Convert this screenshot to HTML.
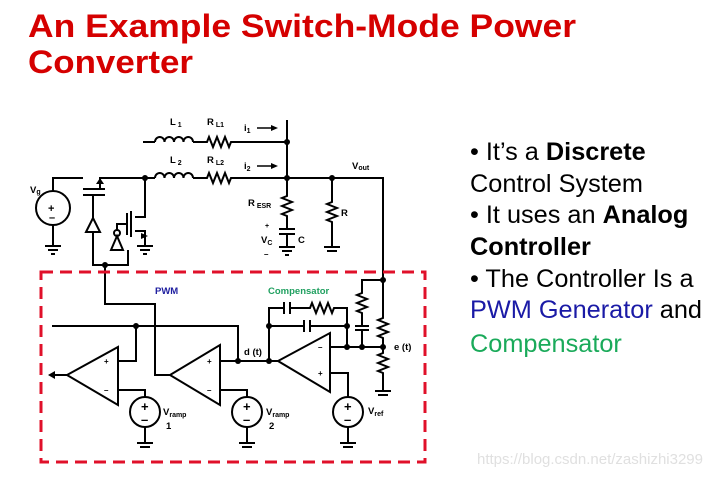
<!DOCTYPE html>
<html><head><meta charset="utf-8"><style>
body{margin:0;background:#fff;width:725px;height:477px;overflow:hidden}
svg{display:block}
</style></head><body>
<svg width="725" height="477" viewBox="0 0 725 477" xmlns="http://www.w3.org/2000/svg" font-family="Liberation Sans, Arial, sans-serif">
<text x="28" y="37" font-size="32" font-weight="bold" fill="#d50000" textLength="548" lengthAdjust="spacingAndGlyphs">An Example Switch-Mode Power</text>
<text x="28" y="73" font-size="32" font-weight="bold" fill="#d50000" textLength="165" lengthAdjust="spacingAndGlyphs">Converter</text>

<g font-size="25.3" fill="#000">
<text x="470" y="160">• It’s a <tspan font-weight="bold">Discrete</tspan></text>
<text x="470" y="192">Control System</text>
<text x="470" y="223">• It uses an <tspan font-weight="bold">Analog</tspan></text>
<text x="470" y="255" font-weight="bold">Controller</text>
<text x="470" y="287">• The Controller Is a</text>
<text x="470" y="318"><tspan fill="#1a1aa6">PWM Generator</tspan> and</text>
<text x="470" y="352" fill="#1aaa5a">Compensator</text>
</g>
<text x="477" y="464" font-size="15" fill="#e0e0e0">https://blog.csdn.net/zashizhi3299</text>

<g stroke="#000" stroke-width="2" fill="none">
<path d="M143 142 H155"/>
<path d="M155 142 a4.75 5 0 0 1 9.5 0 a4.75 5 0 0 1 9.5 0 a4.75 5 0 0 1 9.5 0 a4.75 5 0 0 1 9.5 0"/>
<path d="M193 142 H207 l2 -5 l4 10 l4 -10 l4 10 l4 -10 l4 10 l2 -5 H287"/>
<path d="M287 120 V178"/>
<path d="M53 191 V178 H83"/>
<path d="M83 189 H105 M83 195 H105 M100 189 V178 H155"/>
<path d="M155 178 a4.75 5 0 0 1 9.5 0 a4.75 5 0 0 1 9.5 0 a4.75 5 0 0 1 9.5 0 a4.75 5 0 0 1 9.5 0"/>
<path d="M193 178 H207 l2 -5 l4 10 l4 -10 l4 10 l4 -10 l4 10 l2 -5 H383 V280"/>
<circle cx="53" cy="208" r="17"/>
<path d="M53 225 V246 M45 246 H61 M48 250 H58 M51 254 H55"/>
<path d="M93 195 V218 M86 232 L93 218 L100 232 Z M93 232 V265 H128 V250"/>
<path d="M145 178 V217 H135 M131 211 V237 M127 213 V235 M135 231 H145 V246 M137 246 H153 M140 250 H150 M143 254 H147"/>
<path d="M127 224 H117 V230"/>
<circle cx="117" cy="233" r="3"/>
<path d="M111 250 L117 236 L123 250 Z"/>
<path d="M287 178 V196 l-5 2 l10 4 l-10 4 l10 4 l-10 4 l5 2 V229 M279 229 H295 M279 234 H295 M287 234 V247 M279 247 H295 M282 251 H292 M285 255 H289"/>
<path d="M332 178 V202 l-5 2 l10 4 l-10 4 l10 4 l-10 4 l5 2 V247 M324 247 H340 M327 251 H337"/>
<path d="M105 265 V304 H155 V375 H170"/>
<path d="M118 347 V405 L67 375 Z"/>
<path d="M67 375 H55"/>
<path d="M52 326 H238 V361 M136 326 V361 H118 M118 390 H145 V397"/>
<circle cx="145" cy="412" r="15"/>
<path d="M145 427 V443 M137 443 H153 M140 447 H150"/>
<path d="M220 345 V405 L170 375 Z"/>
<path d="M220 361 H278 M220 390 H247 V397"/>
<circle cx="247" cy="412" r="15"/>
<path d="M247 427 V443 M239 443 H255 M242 447 H252"/>
<path d="M330 333 V392 L278 361 Z"/>
<path d="M330 373 H348 V397"/>
<circle cx="348" cy="412" r="15"/>
<path d="M348 427 V443 M340 443 H356 M343 447 H353"/>
<path d="M269 361 V308 H284 M284 302 V314 M290 302 V314 M290 308 H310 l2 -5 l4 10 l4 -10 l4 10 l4 -10 l4 10 l2 -5 H347 V347"/>
<path d="M269 326 H304 M304 320 V332 M310 320 V332 M310 326 H347"/>
<path d="M330 347 H383"/>
<path d="M362 347 V330 M355 330 H369 M355 326 H369 M362 326 V313 l-5 -2 l10 -4 l-10 -4 l10 -4 l-10 -4 l5 -2 V280 H383"/>
<path d="M383 280 V318 l-5 2 l10 4 l-10 4 l10 4 l-10 4 l5 2 V353 l-5 2 l10 4 l-10 4 l10 4 l-10 4 l5 2 V391 M375 391 H391 M378 395 H388"/>
</g>
<path d="M55 371 L48 375 L55 379 Z M104 184 L100 178 L96 184 Z M148 236 L141 233 L141 239 Z M271 125 L278 128 L271 131 Z M271 163 L278 166 L271 169 Z" fill="#000"/>
<path d="M257 128 H272 M257 166 H272" stroke="#000" stroke-width="1.5"/>
<g fill="#000">
<circle cx="287" cy="142" r="3"/><circle cx="287" cy="178" r="3"/><circle cx="332" cy="178" r="3"/><circle cx="145" cy="178" r="3"/>
<circle cx="105" cy="265" r="3"/><circle cx="136" cy="326" r="3"/><circle cx="238" cy="361" r="3"/><circle cx="269" cy="361" r="3"/>
<circle cx="269" cy="326" r="3"/><circle cx="347" cy="326" r="3"/><circle cx="347" cy="347" r="3"/><circle cx="362" cy="347" r="3"/><circle cx="383" cy="347" r="3"/><circle cx="383" cy="280" r="3"/>
</g>
<g font-size="9.5" font-weight="bold" fill="#000">
<text x="170" y="125">L<tspan font-size="7" dy="2"> 1</tspan></text>
<text x="207" y="125">R<tspan font-size="7" dy="2"> L1</tspan></text>
<text x="244" y="131">i<tspan font-size="7" dy="2">1</tspan></text>
<text x="170" y="163">L<tspan font-size="7" dy="2"> 2</tspan></text>
<text x="207" y="163">R<tspan font-size="7" dy="2"> L2</tspan></text>
<text x="244" y="169">i<tspan font-size="7" dy="2">2</tspan></text>
<text x="352" y="169">V<tspan font-size="7" dy="1">out</tspan></text>
<text x="30" y="193">V<tspan font-size="7" dy="1">g</tspan></text>
<text x="48" y="212" font-size="11">+</text><text x="49" y="221" font-size="11">–</text>
<text x="248" y="206">R<tspan font-size="7" dy="2"> ESR</tspan></text>
<text x="265" y="228" font-size="7">+</text>
<text x="261" y="243">V<tspan font-size="7" dy="2">C</tspan></text>
<text x="264" y="257" font-size="8">–</text>
<text x="298" y="243">C</text>
<text x="341" y="216">R</text>
<text x="155" y="294" fill="#2020a0">PWM</text>
<text x="268" y="294" fill="#20a060">Compensator</text>
<text x="244" y="355">d (t)</text>
<text x="394" y="350">e (t)</text>
<text x="104" y="364" font-size="8">+</text><text x="104" y="393" font-size="8">–</text>
<text x="207" y="364" font-size="8">+</text><text x="207" y="393" font-size="8">–</text>
<text x="318" y="350" font-size="8">–</text><text x="318" y="376" font-size="8">+</text>
<text x="163" y="415">V<tspan font-size="7" dy="2">ramp</tspan></text><text x="166" y="429">1</text>
<text x="266" y="415">V<tspan font-size="7" dy="2">ramp</tspan></text><text x="269" y="429">2</text>
<text x="368" y="414">V<tspan font-size="7" dy="2">ref</tspan></text>
<g font-size="13"><text x="141" y="411">+</text><text x="141" y="424">–</text><text x="243" y="411">+</text><text x="243" y="424">–</text><text x="344" y="411">+</text><text x="344" y="424">–</text></g>
</g>
<rect x="41" y="272" width="384" height="190" fill="none" stroke="#e0102a" stroke-width="3" stroke-dasharray="12 7"/>
</svg>
</body></html>
